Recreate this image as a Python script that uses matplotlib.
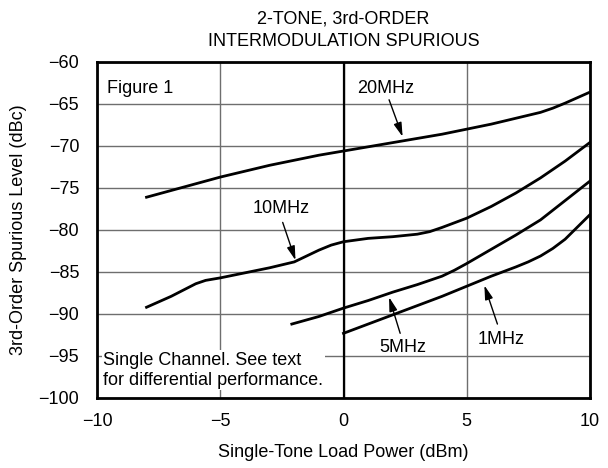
import matplotlib
matplotlib.use("Agg")
import matplotlib.pyplot as plt

plt.rcParams['font.family'] = ['Liberation Sans', 'DejaVu Sans']

# curve data (x in dBm, y in dBc)
x_20mhz = [-8, -6, -5, -3, -1, 0, 2, 4, 5, 6, 7, 8, 8.5, 9, 10]
y_20mhz = [-76.1, -74.5, -73.7, -72.3, -71.1, -70.6, -69.6, -68.6, -68.0, -67.4, -66.7, -66.0, -65.5, -64.9, -63.6]

x_10mhz = [-8, -7, -6.4, -6.0, -5.6, -5, -4, -3, -2, -1.5, -1, -0.5, 0, 0.5, 1, 2, 3, 3.5, 4, 5, 6, 7, 8, 9, 10]
y_10mhz = [-89.2, -87.9, -87.0, -86.4, -86.0, -85.7, -85.1, -84.5, -83.8, -83.1, -82.4, -81.8, -81.4, -81.2, -81.0, -80.8, -80.5, -80.2, -79.7, -78.6, -77.2, -75.6, -73.8, -71.8, -69.6]

x_5mhz = [-2.1, -1, 0, 1, 2, 3, 4, 4.5, 5, 6, 7, 8, 9, 10]
y_5mhz = [-91.2, -90.3, -89.3, -88.4, -87.4, -86.5, -85.5, -84.8, -84.0, -82.3, -80.6, -78.8, -76.5, -74.2]

x_1mhz = [0, 1, 2, 3, 4, 5, 6, 7, 7.5, 8, 8.5, 9, 10]
y_1mhz = [-92.3, -91.2, -90.1, -89.0, -87.9, -86.7, -85.5, -84.4, -83.8, -83.1, -82.2, -81.1, -78.2]

x_ticks = [-10, -5, 0, 5, 10]
y_ticks = [-100, -95, -90, -85, -80, -75, -70, -65, -60]

# label text, label position, arrow start, arrow tip
labels = [
    ("20MHz", (1.7, -63.1), (1.85, -64.5), (2.4, -68.9)),
    ("10MHz", (-2.55, -77.4), (-2.47, -79.1), (-1.95, -83.6)),
    ("5MHz", (2.4, -94.0), (2.3, -92.3), (1.85, -88.0)),
    ("1MHz", (6.4, -93.0), (6.25, -91.2), (5.72, -86.6)),
]

fs = 13

fig = plt.figure(figsize=(6.08, 4.68), dpi=100)
ax = fig.add_axes([0.16, 0.1496, 0.81, 0.718])

ax.set_xlim(-10, 10)
ax.set_ylim(-100, -60)
ax.set_xticks(x_ticks)
ax.set_yticks(y_ticks)
ax.set_xticklabels([str(t).replace('-', '\u2212') for t in x_ticks])
ax.set_yticklabels([str(t).replace('-', '\u2212') for t in y_ticks])
ax.tick_params(length=0, labelsize=fs)
ax.tick_params(axis='x', pad=11)
ax.tick_params(axis='y', pad=13)
ax.grid(True, color='#6e6e6e', linewidth=1.0)
ax.axvline(0, color='black', linewidth=1.6, zorder=2)
for s in ax.spines.values():
    s.set_linewidth(2.0)
    s.set_zorder(5)

for xs, ys in [(x_20mhz, y_20mhz), (x_10mhz, y_10mhz), (x_5mhz, y_5mhz), (x_1mhz, y_1mhz)]:
    ax.plot(xs, ys, color='black', linewidth=2.0, zorder=3, solid_joinstyle='round')

for text, pos, start, tip in labels:
    ax.text(pos[0], pos[1], text, ha='center', va='center', fontsize=fs, zorder=4)
    ax.annotate('', xy=tip, xytext=start,
                arrowprops=dict(arrowstyle='-|>,head_length=0.7,head_width=0.2', color='black', lw=1.0,
                                mutation_scale=12, shrinkA=0, shrinkB=0))

ax.text(-9.6, -63.1, "Figure 1", ha='left', va='center', fontsize=fs,
        bbox=dict(facecolor='white', edgecolor='none', pad=1), zorder=4)
ax.text(-9.75, -96.7, "Single Channel. See text\nfor differential performance.",
        ha='left', va='center', fontsize=fs, linespacing=1.25,
        bbox=dict(facecolor='white', edgecolor='none', pad=1), zorder=4)

fig.text(0.565, 0.935, "2-TONE, 3rd-ORDER\nINTERMODULATION SPURIOUS",
         ha='center', va='center', fontsize=fs, linespacing=1.45)
ax.set_xlabel("Single-Tone Load Power (dBm)", fontsize=fs, labelpad=10)
ax.set_ylabel("3rd-Order Spurious Level (dBc)", fontsize=fs, labelpad=8)

fig.savefig("out.png", dpi=100)
